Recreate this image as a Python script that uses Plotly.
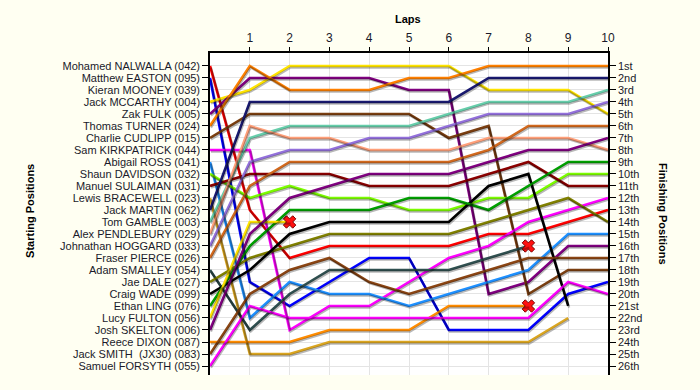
import plotly.graph_objects as go

laps = list(range(0, 11))

drivers = [
    "Mohamed NALWALLA (042)", "Matthew EASTON (095)", "Kieran MOONEY (039)",
    "Jack MCCARTHY (004)", "Zak FULK (005)", "Thomas TURNER (024)",
    "Charlie CUDLIPP (015)", "Sam KIRKPATRICK (044)", "Abigail ROSS (041)",
    "Shaun DAVIDSON (032)", "Manuel SULAIMAN (031)", "Lewis BRACEWELL (023)",
    "Jack MARTIN (062)", "Tom GAMBLE (003)", "Alex PENDLEBURY (029)",
    "Johnathan HOGGARD (033)", "Fraser PIERCE (026)", "Adam SMALLEY (054)",
    "Jae DALE (027)", "Craig WADE (099)", "Ethan LING (076)",
    "Lucy FULTON (056)", "Josh SKELTON (006)", "Reece DIXON (087)",
    "Jack SMITH  (JX30) (083)", "Samuel FORSYTH (055)",
]

colors = [
    "#FF0000", "#0000FF", "#A0A0A0", "#FFE400", "#800080", "#FF8000",
    "#7A3E10", "#FF00FF", "#1E90FF", "#7CFC00", "#8B0000", "#DAA520",
    "#191970", "#66CDAA", "#FFA07A", "#9370DB", "#D2691E", "#2F4F4F",
    "#808000", "#000000", "#00A000", "#FFE400", "#800080", "#FF8C00",
    "#8B4513", "#FF00FF",
]

N = None
p_nalwalla = [1, 13, 17, 16, 16, 16, 16, 15, 15, 14, 13]
p_easton = [2, 19, 21, 19, 17, 17, 23, 23, 23, 20, 19]
p_mooney = [3, N, N, N, N, N, N, N, N, N, N]
p_mccarthy = [4, 3, 1, 1, 1, 1, 1, 3, 3, 3, 5]
p_fulk = [5, 2, 2, 2, 2, 3, 3, 20, 19, 16, 16]
p_turner = [6, 1, 3, 3, 3, 2, 2, 1, 1, 1, 1]
p_cudlipp = [7, 5, 5, 5, 5, 5, 7, 6, 20, 18, 18]
p_kirkpatrick = [8, 8, 23, 21, 21, 19, 17, 16, 14, 13, 12]
p_ross = [9, 22, 19, 20, 20, 21, 20, 19, 18, 15, 15]
p_davidson = [10, 12, 11, 12, 12, 13, 13, 12, 12, 10, 10]
p_sulaiman = [11, 10, 10, 10, 11, 11, 11, 10, 9, 11, 11]
p_bracewell = [12, 25, 25, 24, 24, 24, 24, 24, 24, 22, N]
p_martin = [13, 4, 4, 4, 4, 4, 4, 2, 2, 2, 2]
p_gamble = [14, 7, 6, 6, 6, 6, 5, 4, 4, 4, 3]
p_pendlebury = [15, 6, 7, 7, 8, 8, 8, 7, 7, 7, 8]
p_hoggard = [16, 9, 8, 8, 7, 7, 6, 5, 5, 5, 4]
p_pierce = [17, 11, 9, 9, 9, 9, 9, 8, 6, 6, 6]
p_smalley = [18, 23, 20, 18, 18, 18, 18, 17, 16, N, N]
p_dale = [19, 17, 16, 15, 15, 15, 15, 14, 13, 12, 14]
p_wade = [20, 18, 15, 14, 14, 14, 14, 11, 10, 21, N]
p_ling = [21, 16, 13, 13, 13, 12, 12, 13, 11, 9, 9]
p_fulton = [22, 14, 14, N, N, N, N, N, N, N, N]
p_skelton = [23, 15, 12, 11, 10, 10, 10, 9, 8, 8, 7]
p_dixon = [24, 24, 24, 23, 23, 23, 21, 21, 21, N, N]
p_smith = [25, 20, 18, 17, 19, 20, 19, 18, 17, 17, 17]
p_forsyth = [26, 21, 22, 22, 22, 22, 22, 22, 22, 19, 20]

series = [
    p_nalwalla, p_easton, p_mooney, p_mccarthy, p_fulk, p_turner, p_cudlipp,
    p_kirkpatrick, p_ross, p_davidson, p_sulaiman, p_bracewell, p_martin,
    p_gamble, p_pendlebury, p_hoggard, p_pierce, p_smalley, p_dale, p_wade,
    p_ling, p_fulton, p_skelton, p_dixon, p_smith, p_forsyth,
]

retired = ["Lucy FULTON (056)", "Adam SMALLEY (054)", "Reece DIXON (087)"]

finish_labels = ["1st", "2nd", "3rd", "4th", "5th", "6th", "7th", "8th", "9th",
                 "10th", "11th", "12th", "13th", "14th", "15th", "16th", "17th",
                 "18th", "19th", "20th", "21st", "22nd", "23rd", "24th", "25th",
                 "26th"]
lap_ticks = list(range(1, 11))
positions = list(range(1, 27))

FONT = "Liberation Sans, Arial, sans-serif"
TXT = "#1a1a2a"

fig = go.Figure()

# shadows (on offset overlay axes)
for name, ys in zip(drivers, series):
    fig.add_trace(go.Scatter(x=laps, y=ys, mode="lines", xaxis="x3", yaxis="y3",
                             line=dict(color="rgba(0,0,0,0.28)", width=2.2),
                             hoverinfo="skip", showlegend=False))

for name, ys, c in zip(drivers, series, colors):
    fig.add_trace(go.Scatter(x=laps, y=ys, mode="lines", name=name,
                             line=dict(color=c, width=2.6),
                             showlegend=False))

# retirement markers
rx, ry = [], []
for name, ys in zip(drivers, series):
    if name in retired:
        last = max(i for i, v in enumerate(ys) if v is not None)
        rx.append(laps[last])
        ry.append(ys[last])
fig.add_trace(go.Scatter(x=rx, y=ry, mode="markers", showlegend=False,
                         marker=dict(symbol="x", size=11, color="#FF1010",
                                     line=dict(color="#7A0000", width=1))))

# dummy trace to host right axis
fig.add_trace(go.Scatter(x=[laps[-1]], y=[positions[0]], yaxis="y2", mode="markers",
                         marker=dict(opacity=0), hoverinfo="skip", showlegend=False))

yr = [26.75, -0.08]
px_x = 10 / 398
px_y = 1 / 12.0

fig.update_layout(
    width=700, height=390,
    margin=dict(l=210, r=92, t=53, b=15, autoexpand=False),
    paper_bgcolor="#FFFFF2",
    plot_bgcolor="#FFFFFF",
    font=dict(family=FONT, size=11, color=TXT),
    xaxis=dict(range=[0, 10], side="top", tickvals=lap_ticks,
               ticktext=[str(v) for v in lap_ticks], automargin=False,
               showgrid=True, gridcolor="#E4E4E4", gridwidth=1,
               showline=True, linecolor="#000000", linewidth=1.5,
               ticks="outside", ticklen=4, tickcolor="#000000",
               tickfont=dict(size=12, color=TXT), zeroline=False),
    yaxis=dict(range=yr, tickvals=positions, ticktext=drivers, automargin=False,
               showgrid=True, gridcolor="#E4E4E4", gridwidth=1,
               showline=True, linecolor="#000000", linewidth=1.5,
               ticks="outside", ticklen=6, tickcolor="#000000",
               tickfont=dict(size=11, color=TXT), zeroline=False),
    yaxis2=dict(range=yr, overlaying="y", side="right", tickvals=positions,
                ticktext=finish_labels, showgrid=False, automargin=False,
                showline=True, linecolor="#000000", linewidth=1.5,
                ticks="outside", ticklen=6, tickcolor="#000000",
                tickfont=dict(size=11, color=TXT), zeroline=False),
    xaxis3=dict(range=[0 - px_x, 10 - px_x], overlaying="x", visible=False),
    yaxis3=dict(range=[yr[0] - 1.6 * px_y, yr[1] - 1.6 * px_y], overlaying="y",
                visible=False),
    annotations=[
        dict(text="<b>Laps</b>", x=0.4975, y=1.106, xref="paper", yref="paper",
             xanchor="center", yanchor="middle",
             showarrow=False, font=dict(size=11, color="#000000")),
        dict(text="<b>Starting Positions</b>", x=-0.452, y=0.51, xref="paper",
             yref="paper", showarrow=False, textangle=-90,
             xanchor="center", yanchor="middle",
             font=dict(size=11, color="#000000")),
        dict(text="<b>Finishing Positions</b>", x=1.138, y=0.50, xref="paper",
             yref="paper", showarrow=False, textangle=90,
             xanchor="center", yanchor="middle",
             font=dict(size=11, color="#000000")),
    ],
)

fig.write_html(
    "out.html",
    config={"displayModeBar": False},
    post_script="document.body.style.margin='0px';document.body.style.background='#FFFFF2';",
)
